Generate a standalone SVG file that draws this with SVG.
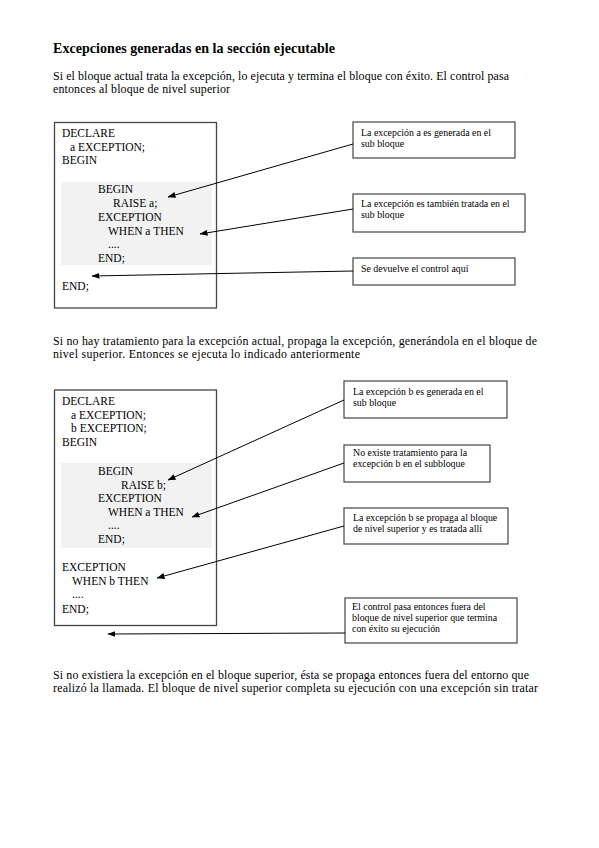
<svg xmlns="http://www.w3.org/2000/svg" width="599" height="848" viewBox="0 0 599 848">
<defs>
<style>
.t{font-family:"Liberation Serif","Times New Roman",serif;fill:#000}
.title{font-size:14px;font-weight:bold}
.p{font-size:11.9px}
.c{font-size:11.5px}
.n{font-size:9.9px}
.box{fill:#fff;stroke:#444;stroke-width:1.3}
.shade{fill:#f2f2f2;stroke:none}
.cb{fill:#fff;stroke:#444;stroke-width:1.2}
.ar{fill:none;stroke:#000;stroke-width:1}
</style>
<marker id="ah" markerWidth="8" markerHeight="6" refX="7.5" refY="3" orient="auto" markerUnits="userSpaceOnUse">
<path d="M0,0 L8,3 L0,6 Z" fill="#000"/>
</marker>
</defs>
<rect width="599" height="848" fill="#fff"/>

<g id="texts">
<text class="t title" x="53" y="53" textLength="282" lengthAdjust="spacing">Excepciones generadas en la sección ejecutable</text>
<text class="t p" x="53" y="80" textLength="456" lengthAdjust="spacing">Si el bloque actual trata la excepción, lo ejecuta y termina el bloque con éxito.  El control pasa</text>
<text class="t p" x="53" y="93" textLength="177" lengthAdjust="spacing">entonces al bloque de nivel superior</text>
<text class="t p" x="53" y="345" textLength="484" lengthAdjust="spacing">Si no hay tratamiento para la excepción actual, propaga la excepción, generándola en el bloque de</text>
<text class="t p" x="53" y="358" textLength="307" lengthAdjust="spacing">nivel superior.  Entonces se ejecuta lo indicado anteriormente</text>
<text class="t p" x="53" y="679" textLength="476" lengthAdjust="spacing">Si no existiera la excepción en el bloque superior, ésta se propaga entonces fuera del entorno que</text>
<text class="t p" x="53" y="692" textLength="485" lengthAdjust="spacing">realizó la llamada.  El bloque de nivel superior completa su ejecución con una excepción sin tratar</text>
</g>

<g id="block1">
<rect class="box" x="54.5" y="122.5" width="162" height="185.5"/>
<rect class="shade" x="61" y="182" width="151" height="83"/>
<text class="t c" x="62" y="137">DECLARE</text>
<text class="t c" x="70" y="151">a EXCEPTION;</text>
<text class="t c" x="62" y="164">BEGIN</text>
<text class="t c" x="98" y="193">BEGIN</text>
<text class="t c" x="113" y="207">RAISE a;</text>
<text class="t c" x="98" y="221">EXCEPTION</text>
<text class="t c" x="108" y="235">WHEN a THEN</text>
<text class="t c" x="108" y="248">....</text>
<text class="t c" x="98" y="262">END;</text>
<text class="t c" x="62" y="290">END;</text>
</g>

<g id="note1">
<rect class="cb" x="353" y="122" width="162" height="36"/>
<text class="t n" x="361" y="136">La excepción a es generada en el</text>
<text class="t n" x="361" y="147">sub bloque</text>
</g>
<g id="note2">
<rect class="cb" x="353" y="194" width="172" height="38"/>
<text class="t n" x="361" y="207">La excepción es también tratada en el</text>
<text class="t n" x="361" y="218">sub bloque</text>
</g>
<g id="note3">
<rect class="cb" x="353" y="258" width="162" height="27"/>
<text class="t n" x="361" y="272">Se devuelve el control aquí</text>
</g>

<g id="block2">
<rect class="box" x="54.5" y="390" width="162" height="235.5"/>
<rect class="shade" x="61" y="463" width="151" height="85"/>
<text class="t c" x="62" y="405">DECLARE</text>
<text class="t c" x="71" y="419">a EXCEPTION;</text>
<text class="t c" x="71" y="432">b EXCEPTION;</text>
<text class="t c" x="62" y="446">BEGIN</text>
<text class="t c" x="98" y="475">BEGIN</text>
<text class="t c" x="121" y="489">RAISE b;</text>
<text class="t c" x="98" y="502">EXCEPTION</text>
<text class="t c" x="108" y="516">WHEN a THEN</text>
<text class="t c" x="108" y="529">....</text>
<text class="t c" x="98" y="543">END;</text>
<text class="t c" x="62" y="571">EXCEPTION</text>
<text class="t c" x="72" y="585">WHEN b THEN</text>
<text class="t c" x="72" y="598">....</text>
<text class="t c" x="62" y="613">END;</text>
</g>

<g id="note4">
<rect class="cb" x="344" y="381" width="163" height="37"/>
<text class="t n" x="353" y="395">La excepción b es generada en el</text>
<text class="t n" x="353" y="406">sub bloque</text>
</g>
<g id="note5">
<rect class="cb" x="344" y="445" width="146" height="37"/>
<text class="t n" x="353" y="456">No existe tratamiento para la</text>
<text class="t n" x="353" y="467">excepción b en el subbloque</text>
</g>
<g id="note6">
<rect class="cb" x="344" y="508" width="164" height="36"/>
<text class="t n" x="353" y="521">La excepción b se propaga al bloque</text>
<text class="t n" x="353" y="532">de nivel superior y es tratada allí</text>
</g>
<g id="note7">
<rect class="cb" x="345" y="598" width="172" height="45"/>
<text class="t n" x="352" y="610">El control pasa entonces fuera del</text>
<text class="t n" x="352" y="621">bloque de nivel superior que termina</text>
<text class="t n" x="352" y="632">con éxito su ejecución</text>
</g>

<g id="connectors">
<line class="ar" x1="353" y1="144" x2="168" y2="197" marker-end="url(#ah)"/>
<line class="ar" x1="353" y1="209" x2="200" y2="234" marker-end="url(#ah)"/>
<line class="ar" x1="353" y1="271" x2="92" y2="276" marker-end="url(#ah)"/>
<line class="ar" x1="344" y1="400" x2="168" y2="480" marker-end="url(#ah)"/>
<line class="ar" x1="344" y1="463" x2="192" y2="517" marker-end="url(#ah)"/>
<line class="ar" x1="344" y1="526" x2="157" y2="578" marker-end="url(#ah)"/>
<line class="ar" x1="345" y1="633" x2="108" y2="634" marker-end="url(#ah)"/>
</g>
</svg>
